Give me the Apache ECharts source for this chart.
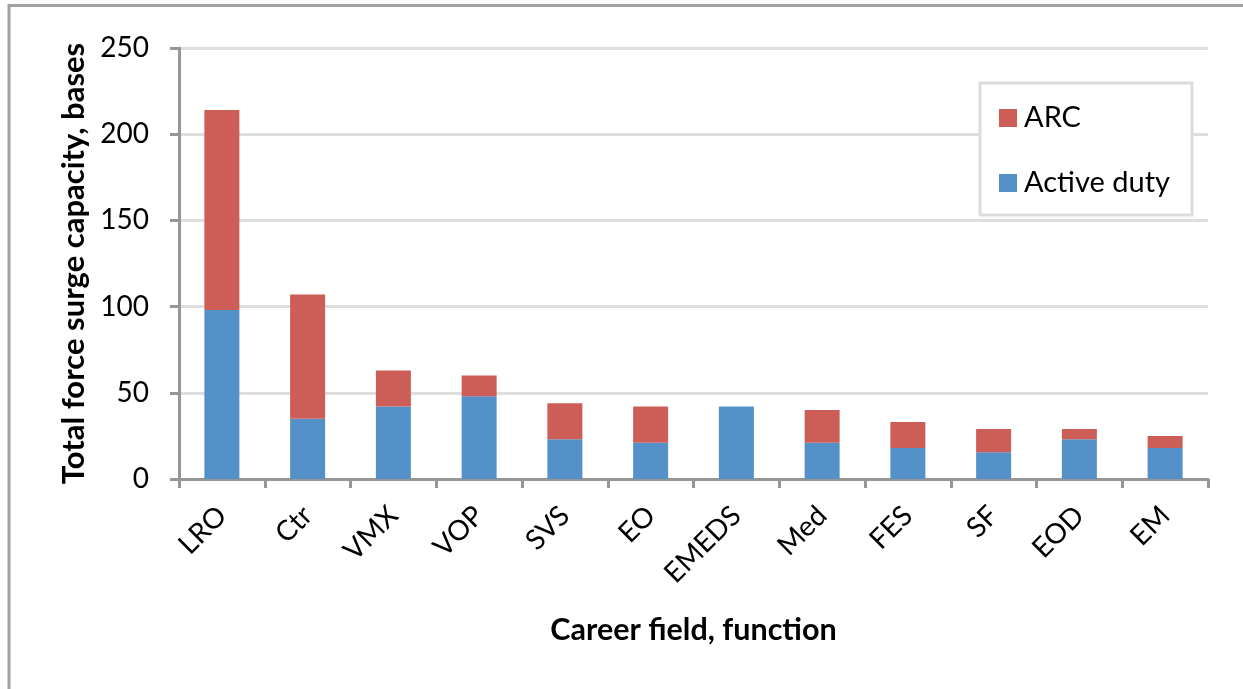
<!DOCTYPE html>
<html>
<head>
<meta charset="utf-8">
<script src="https://cdn.jsdelivr.net/npm/echarts@6/dist/echarts.min.js"></script>
<style>
html,body{margin:0;padding:0;background:#fff;}
#chart{width:1243px;height:689px;}
</style>
</head>
<body>
<div id="chart"></div>
<script>
const categories = ['LRO','Ctr','VMX','VOP','SVS','EO','EMEDS','Med','FES','SF','EOD','EM'];
const activeDuty = [98, 35, 42, 48, 23, 21, 42, 21, 18, 15.5, 23, 18];
const arc        = [116, 72, 21, 12, 21, 21, 0, 19, 15, 13.5, 6, 7];
const yTicks = { min: 0, max: 250, interval: 50 };

const FONT = 'Lato';
const chart = echarts.init(document.getElementById('chart'));
chart.setOption({
  animation: false,
  backgroundColor: '#ffffff',
  textStyle: { fontFamily: FONT },
  graphic: [{
    type: 'rect',
    shape: { x: 9, y: 5.5, width: 1400, height: 900 },
    style: { fill: 'none', stroke: '#a0a0a0', lineWidth: 3 },
    silent: true
  }],
  grid: { left: 179, right: 35, top: 48, bottom: 210, containLabel: false },
  legend: {
    orient: 'vertical',
    left: 980, top: 83,
    data: ['ARC', 'Active duty'],
    itemWidth: 18, itemHeight: 18,
    itemGap: 35,
    padding: [20, 22, 17, 19],
    backgroundColor: '#ffffff',
    borderColor: '#dcdcdc',
    borderWidth: 3,
    borderRadius: 0,
    icon: 'rect',
    textStyle: { fontFamily: FONT, fontSize: 29, color: '#000', lineHeight: 30, padding: [0,0,0,2] }
  },
  xAxis: {
    type: 'category',
    data: categories,
    name: 'Career field, function',
    nameLocation: 'middle',
    nameGap: 136,
    nameTextStyle: { fontFamily: FONT, fontSize: 30.5, fontWeight: 'bold', color: '#000' },
    axisLine: { lineStyle: { color: '#969696', width: 3 } },
    axisTick: { show: true, length: 9, lineStyle: { color: '#969696', width: 3 } },
    axisLabel: { rotate: 45, fontFamily: FONT, fontSize: 28, color: '#000', margin: 32 },
    splitLine: { show: false }
  },
  yAxis: {
    type: 'value',
    min: yTicks.min, max: yTicks.max, interval: yTicks.interval,
    name: 'Total force surge capacity, bases',
    nameLocation: 'middle',
    nameGap: 90,
    nameTextStyle: { fontFamily: FONT, fontSize: 31, fontWeight: 'bold', color: '#000' },
    axisLine: { show: true, lineStyle: { color: '#969696', width: 3 } },
    axisTick: { show: true, length: 9, lineStyle: { color: '#969696', width: 3 } },
    axisLabel: { fontFamily: FONT, fontSize: 28, color: '#000', margin: 30 },
    splitLine: { show: true, lineStyle: { color: '#dedede', width: 3 } }
  },
  series: [
    {
      name: 'Active duty', type: 'bar', stack: 'total',
      data: activeDuty, barWidth: 35,
      itemStyle: { color: '#5591c9' }
    },
    {
      name: 'ARC', type: 'bar', stack: 'total',
      data: arc, barWidth: 35,
      itemStyle: { color: '#cd5e57' }
    }
  ]
});
</script>
</body>
</html>
